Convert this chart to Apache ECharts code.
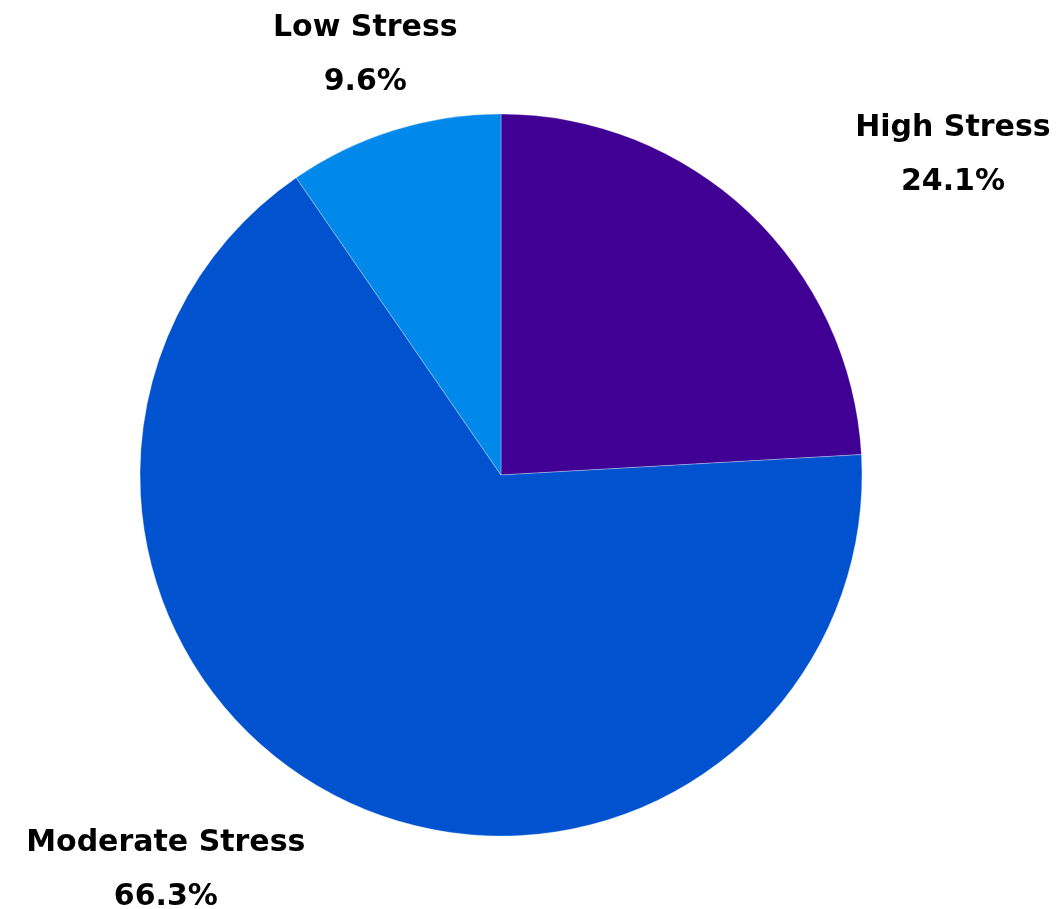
<!DOCTYPE html>
<html>
<head>
<meta charset="utf-8">
<script src="https://cdn.jsdelivr.net/npm/echarts@6/dist/echarts.min.js"></script>
<style>
html,body{margin:0;padding:0;background:#fff;}
#chart{width:1062px;height:909px;}
</style>
</head>
<body>
<div id="chart"></div>
<script>
const categories = ['High Stress', 'Moderate Stress', 'Low Stress'];
const values = [24.1, 66.3, 9.6];
const colors = ['#400094', '#0052CF', '#0088EA'];

const chart = echarts.init(document.getElementById('chart'), null, {renderer: 'canvas'});
const data = categories.map((c, i) => ({
  name: c,
  value: values[i],
  itemStyle: {color: colors[i]},
  labelLine: i === 0 ? {length2: 47} : undefined
}));
chart.setOption({
  animation: false,
  series: [{
    type: 'pie',
    center: [501, 475],
    radius: 361,
    startAngle: 90,
    clockwise: true,
    avoidLabelOverlap: false,
    itemStyle: {borderColor: 'rgba(255,255,255,0.3)', borderWidth: 1},
    label: {
      show: true,
      position: 'outside',
      alignTo: 'none',
      formatter: p => '{n|' + p.name + '}\n{n|' + p.value + '%}',
      rich: {
        n: {fontFamily: 'DejaVu Sans', fontWeight: 'bold', fontSize: 30, lineHeight: 54, color: '#000', align: 'center'}
      }
    },
    labelLine: {show: false, length: 79, length2: 0},
    labelLayout: p => p.dataIndex === 2 ? {align: 'center'} : (p.dataIndex === 1 ? {dx: 3} : {}),
    emphasis: {disabled: true},
    data: data
  }]
});
</script>
</body>
</html>
